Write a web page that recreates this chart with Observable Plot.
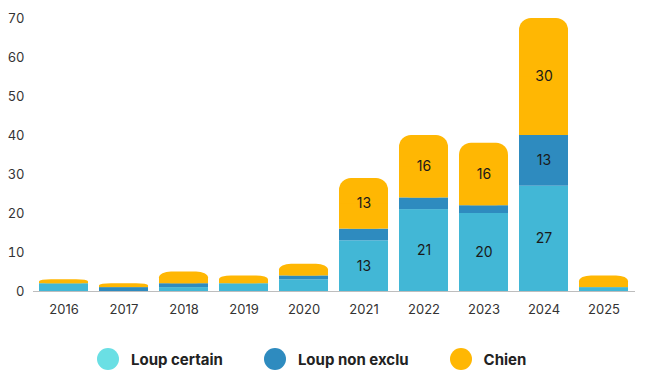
<!DOCTYPE html>
<html>
<head>
<meta charset="utf-8">
<script src="https://cdn.jsdelivr.net/npm/d3@7"></script>
<script src="https://cdn.jsdelivr.net/npm/@observablehq/plot@0.6"></script>
<style>
  html, body { margin: 0; padding: 0; background: #fff; }
  body { width: 650px; height: 379px; overflow: hidden; font-family: Inter, "Noto Sans", sans-serif; }
  #chart svg { display: block; }
  .legend { display: flex; align-items: center; height: 30px; margin-top: 22px; padding-left: 97px; font-family: Inter, sans-serif; font-weight: 700; font-size: 15px; color: #222; }
  .legend .item { display: flex; align-items: center; }
  .legend .dot { width: 22px; height: 22px; border-radius: 50%; margin-right: 12px; }
</style>
</head>
<body>
<div id="chart"></div>
<div class="legend" id="legend"></div>
<script>
const years = ["2016","2017","2018","2019","2020","2021","2022","2023","2024","2025"];
const loupCertain = [2, 0, 1, 2, 3, 13, 21, 20, 27, 1];
const loupNonExclu = [0, 1, 1, 0, 1, 3, 3, 2, 13, 0];
const chien = [1, 1, 3, 2, 3, 13, 16, 16, 30, 3];
const seriesNames = ["Loup certain", "Loup non exclu", "Chien"];
const barColors = ["#42b7d6", "#2e8bbf", "#ffb703"];
const legendColors = ["#6adfe4", "#2e8bbf", "#ffb703"];
const yTicks = [0, 10, 20, 30, 40, 50, 60, 70];

const seriesValues = [loupCertain, loupNonExclu, chien];
const rows = [];
years.forEach((yr, i) => {
  let base = 0;
  seriesValues.forEach((vals, s) => {
    const v = vals[i];
    rows.push({year: yr, series: seriesNames[s], value: v, y1: base, y2: base + v});
    base += v;
  });
});
const lowerRows = rows.filter(d => d.series !== "Chien" && d.value > 0);
const topRows = rows.filter(d => d.series === "Chien");
const labelRows = rows.filter(d => d.value >= 10);

const plot = Plot.plot({
  width: 650,
  height: 322,
  marginLeft: 33,
  marginRight: 15,
  marginTop: 18,
  marginBottom: 31,
  style: {fontFamily: "Inter, sans-serif", fontSize: "13px", color: "#333"},
  x: {domain: years, paddingInner: 0.18, paddingOuter: 0.09, label: null, tickSize: 0, tickPadding: 13},
  y: {domain: [0, 70], ticks: yTicks, label: null, tickSize: 0, tickPadding: 9},
  color: {domain: seriesNames, range: barColors},
  marks: [
    Plot.gridY(yTicks, {stroke: "#d9d9d9", strokeOpacity: 1, x1: 33, x2: 642}),
    Plot.barY(lowerRows, {x: "year", y1: "y1", y2: "y2", fill: "series"}),
    // top segment: rounded rect, with its lower half squared off by a plain rect
    Plot.barY(topRows, {x: "year", y1: "y1", y2: "y2", fill: "series", rx: 12, ry: 12}),
    Plot.barY(topRows, {x: "year", y1: "y1", y2: d => (d.y1 + d.y2) / 2, fill: "series"}),
    Plot.ruleY([0], {stroke: "#bdbdbd"}),
    Plot.text(labelRows, {x: "year", y: d => (d.y1 + d.y2) / 2, text: d => String(d.value), fill: "#1a1a1a", fontSize: 14})
  ]
});
document.getElementById("chart").appendChild(plot);

const legend = document.getElementById("legend");
const gaps = [0, 41, 41];
seriesNames.forEach((name, i) => {
  const item = document.createElement("div");
  item.className = "item";
  item.style.marginLeft = gaps[i] + "px";
  const dot = document.createElement("span");
  dot.className = "dot";
  dot.style.background = legendColors[i];
  const label = document.createElement("span");
  label.textContent = name;
  item.appendChild(dot);
  item.appendChild(label);
  legend.appendChild(item);
});
</script>
</body>
</html>
